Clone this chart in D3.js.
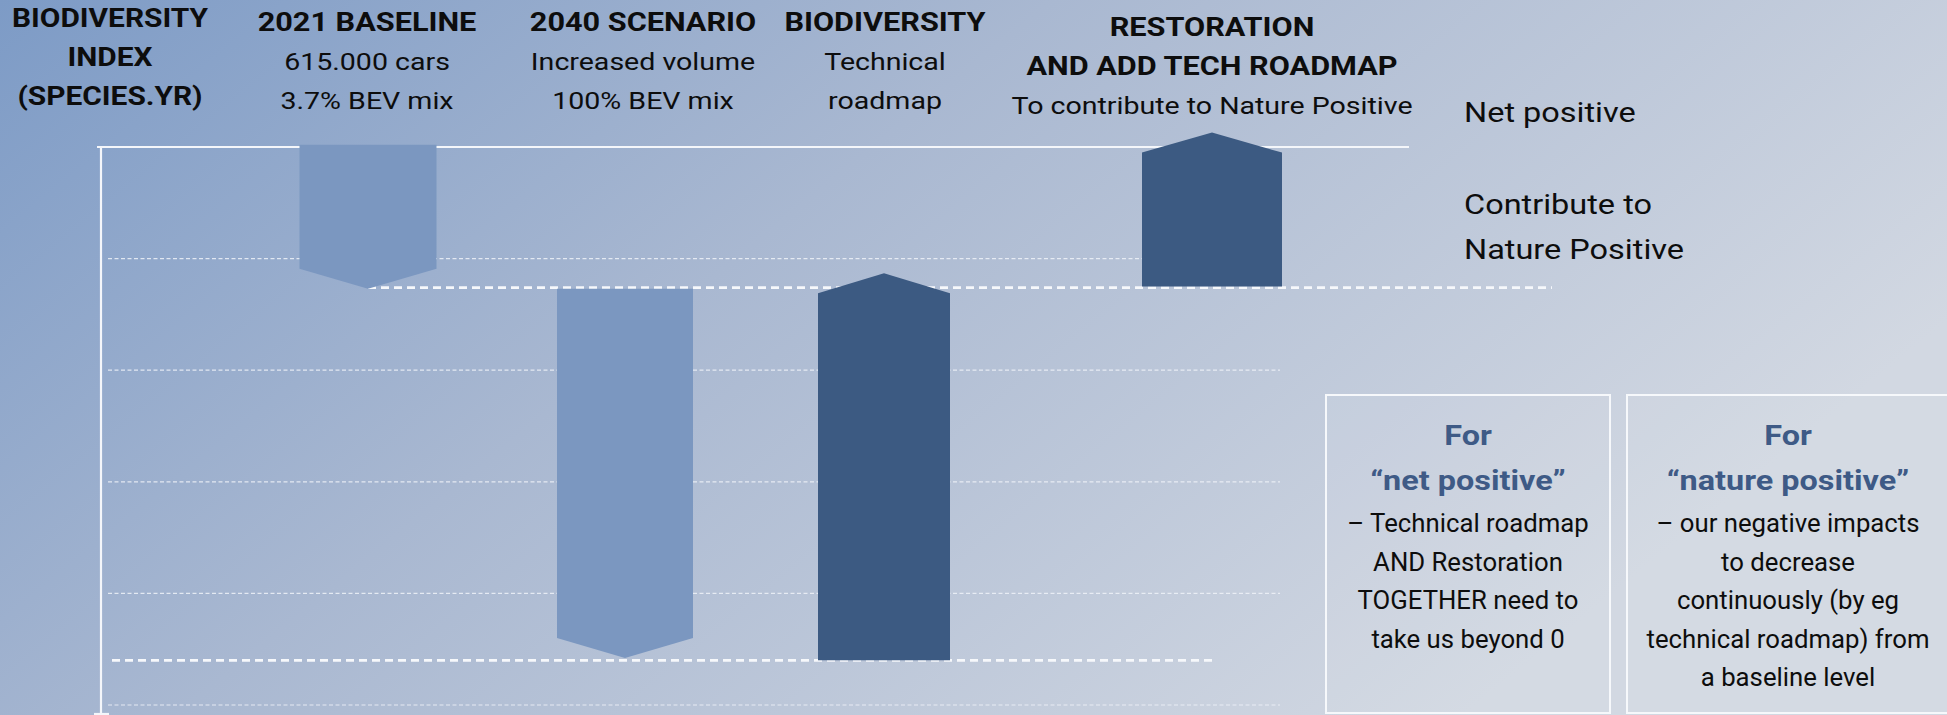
<!DOCTYPE html>
<html><head><meta charset="utf-8">
<script src="https://cdn.jsdelivr.net/npm/d3@7"></script>
<style>
html,body{margin:0;padding:0;overflow:hidden;background:#a9b8d0;}
svg{display:block;}
text{font-family:Roboto,"Noto Sans",sans-serif;}
</style></head>
<body>
<svg id="chart" width="1947" height="715"></svg>
<script>
// ---------- data ----------
const categories = ["2021 BASELINE", "2040 SCENARIO", "BIODIVERSITY", "RESTORATION"];
const categoryTitles = [["2021 BASELINE"], ["2040 SCENARIO"], ["BIODIVERSITY"], ["RESTORATION", "AND ADD TECH ROADMAP"]];
const categorySubtitles = [["615.000 cars", "3.7% BEV mix"], ["Increased volume", "100% BEV mix"], ["Technical", "roadmap"], ["To contribute to Nature Positive"]];
const barFrom = [0.02, -1.27, -4.6, -1.25];
const barTo = [-1.09, -4.40, -1.31, -0.05];
const barKind = ["light", "light", "dark", "dark"];
const axisTitle = ["BIODIVERSITY", "INDEX", "(SPECIES.YR)"];
const gridTicks = [-1, -2, -3, -4, -5];
const levelLines = [-1.26, -4.6];
const netPositiveLevel = 0;
const rightLabels = [["Net positive"], ["Contribute to", "Nature Positive"]];
const rightLabelLevels = [0.22, -0.6];
const boxTitles = [["For", "\u201Cnet positive\u201D"], ["For", "\u201Cnature positive\u201D"]];
const boxBodies = [
  ["\u2013 Technical roadmap", "AND Restoration", "TOGETHER need to", "take us beyond 0"],
  ["\u2013 our negative impacts", "to decrease", "continuously (by eg", "technical roadmap) from", "a baseline level"]
];

// ---------- layout ----------
const W = 1947, H = 715;
const svg = d3.select("#chart");
const y = d3.scaleLinear().domain([0, -5]).range([147, 705]);
const xBar = d3.scaleOrdinal().domain(categories).range([368, 625, 884, 1212]);
const barWidth = d3.scaleOrdinal().domain(categories).range([137, 136, 132, 140]);
const xHead = d3.scaleOrdinal().domain(categories).range([367, 643, 885, 1212]);
const headShift = d3.scaleOrdinal().domain(categories).range([0, 0, 0, 5]);
const color = d3.scaleOrdinal().domain(["light", "dark"]).range(["#7b97c0", "#3c5a82"]);
const tip = 20;

function label(sel, rows, opt) {
  return sel.append("g").selectAll("text").data(rows).join("text")
    .attr("transform", (d, j) => `translate(${opt.x},${opt.y + j * opt.dy}) scale(${opt.sx},1)`)
    .attr("text-anchor", opt.anchor || "middle")
    .attr("font-size", opt.size)
    .attr("font-weight", opt.weight || 400)
    .attr("fill", opt.fill || "#0d0d0d")
    .text(d => d);
}

// background gradient
const defs = svg.append("defs");
const g = defs.append("linearGradient").attr("id", "bg")
  .attr("x1", 0).attr("y1", 0).attr("x2", 1).attr("y2", 0.45);
g.append("stop").attr("offset", "0%").attr("stop-color", "#7d9bc6");
g.append("stop").attr("offset", "45%").attr("stop-color", "#a9b8d1");
g.append("stop").attr("offset", "100%").attr("stop-color", "#d2d8e2");
svg.append("rect").attr("width", W).attr("height", H).attr("fill", "url(#bg)");

// thin dashed gridlines
svg.append("g").selectAll("line").data(gridTicks).join("line")
  .attr("x1", 108).attr("x2", 1280)
  .attr("y1", d => y(d)).attr("y2", d => y(d))
  .attr("stroke", "#eef2f8").attr("stroke-opacity", 0.85)
  .attr("stroke-width", 1.2).attr("stroke-dasharray", "4 2.5");

// top solid net-positive line
svg.append("line").attr("x1", 97).attr("x2", 1409)
  .attr("y1", y(netPositiveLevel)).attr("y2", y(netPositiveLevel))
  .attr("stroke", "#f4f6fa").attr("stroke-width", 2);

// thick dashed level lines
const levelExtents = [[368, 1552], [112, 1212]];
svg.append("g").selectAll("line").data(levelLines).join("line")
  .attr("x1", (d, i) => levelExtents[i][0]).attr("x2", (d, i) => levelExtents[i][1])
  .attr("y1", d => y(d)).attr("y2", d => y(d))
  .attr("stroke", "#f6f8fb").attr("stroke-width", 2.6).attr("stroke-dasharray", "8 5");

// vertical axis
svg.append("line").attr("x1", 101).attr("x2", 101).attr("y1", y(0) - 1).attr("y2", H)
  .attr("stroke", "#f4f6fa").attr("stroke-width", 2.2);
svg.append("line").attr("x1", 94).attr("x2", 109).attr("y1", H - 1).attr("y2", H - 1)
  .attr("stroke", "#f4f6fa").attr("stroke-width", 2.2);

// bars (arrow shapes)
const bars = categories.map((c, i) => ({ c, from: barFrom[i], to: barTo[i], kind: barKind[i] }));
svg.append("g").selectAll("path").data(bars).join("path")
  .attr("fill", d => color(d.kind))
  .attr("d", d => {
    const cx = xBar(d.c), w = barWidth(d.c);
    const x0 = cx - w / 2, x1 = cx + w / 2;
    const yf = y(d.from), yt = y(d.to);
    const dir = yt > yf ? 1 : -1;
    const p = d3.path();
    p.moveTo(x0, yf); p.lineTo(x1, yf); p.lineTo(x1, yt);
    p.lineTo(cx, yt + dir * tip); p.lineTo(x0, yt); p.closePath();
    return p.toString();
  });

// axis title
label(svg, axisTitle, { x: 110, y: 27, dy: 39, size: 26, weight: 700, sx: 1.15 });

// category headers
categories.forEach((c, i) => {
  const x = xHead(c), s = headShift(c);
  const nt = categoryTitles[i].length;
  label(svg, categoryTitles[i], { x, y: 31 + s, dy: 39, size: 26, weight: 700, sx: 1.18 });
  label(svg, categorySubtitles[i], { x, y: 31 + s + nt * 39, dy: 39, size: 24, sx: 1.19 });
});

// right labels
rightLabels.forEach((rows, i) => {
  label(svg, rows, { x: 1464, y: y(rightLabelLevels[i]), dy: 45, size: 28, sx: 1.16, anchor: "start" });
});

// boxes
const boxX = [1326, 1627], boxW = [284, 330], boxCx = [1468, 1788];
boxTitles.forEach((titles, i) => {
  svg.append("rect").attr("x", boxX[i]).attr("y", 395).attr("width", boxW[i]).attr("height", 318)
    .attr("fill", "#ffffff").attr("fill-opacity", 0.06)
    .attr("stroke", "#f6f8fb").attr("stroke-width", 2);
  label(svg, titles, { x: boxCx[i], y: 445, dy: 45, size: 27, weight: 700, sx: 1.2, fill: "#3e5a86" });
  label(svg, boxBodies[i], { x: boxCx[i], y: 532, dy: 38.5, size: 25, sx: 1.03 });
});
</script>
</body></html>
